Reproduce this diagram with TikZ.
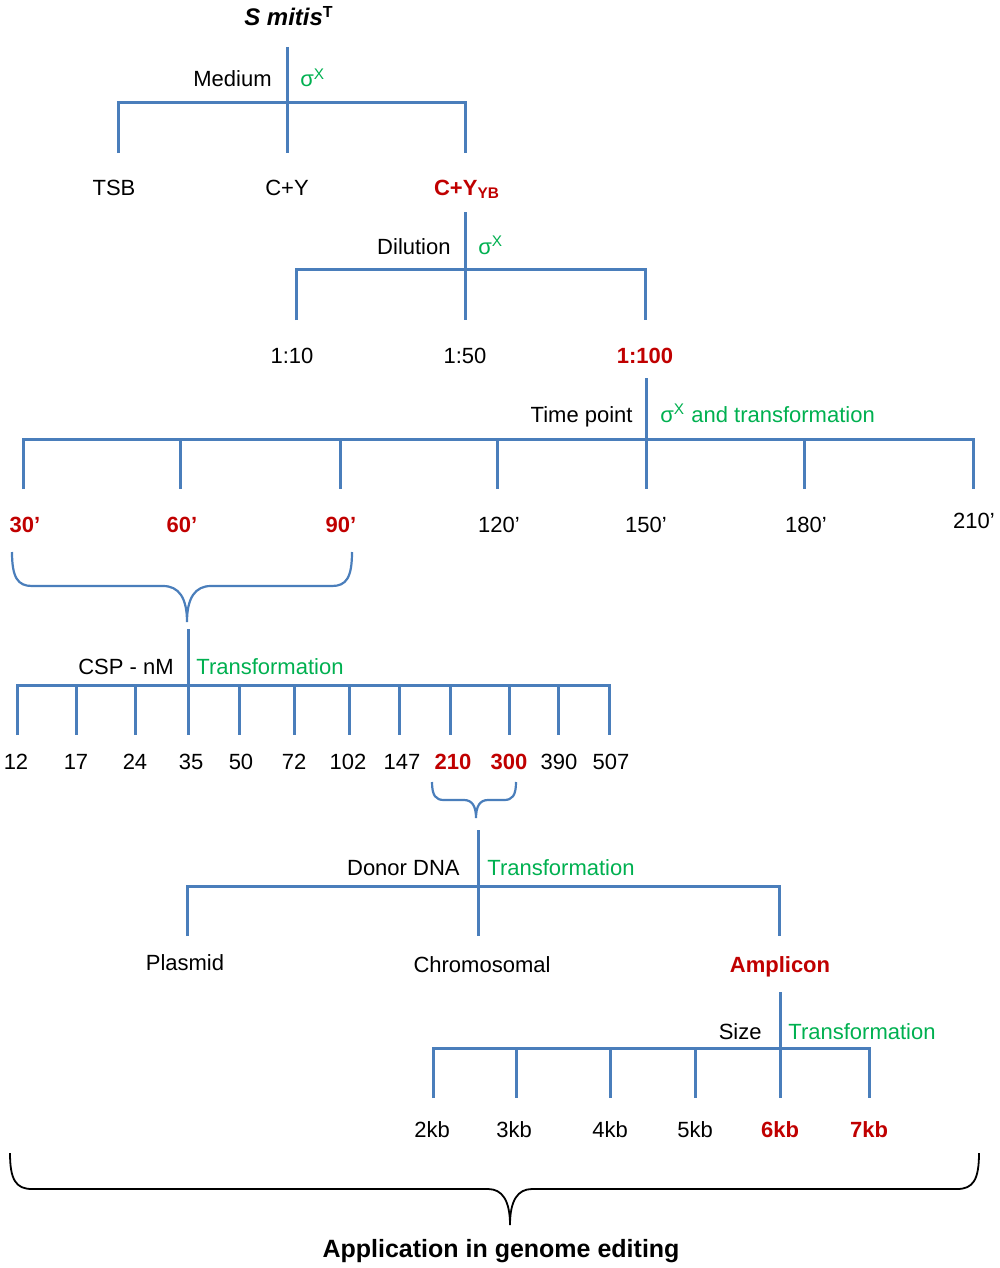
\documentclass[tikz,border=0pt]{standalone}
\usepackage{fontspec}
\setmainfont{Liberation Sans}
\definecolor{tblue}{HTML}{4A7EBB}
\definecolor{tred}{HTML}{C00000}
\definecolor{tgreen}{HTML}{00B050}
\begin{document}
\begin{tikzpicture}[x=0.5pt,y=-0.5pt,
  tree/.style={draw=tblue, line width=1.5pt},
  bigbrace/.style={draw=black, line width=0.9pt},
  lbl/.style={inner sep=0pt, anchor=base, font=\fontsize{11}{13}\selectfont},
  hl/.style={inner sep=0pt, anchor=base, text=tred, font=\fontsize{11}{13}\selectfont\bfseries},
  cat/.style={inner sep=0pt, anchor=base east, font=\fontsize{11}{13}\selectfont},
  crit/.style={inner sep=0pt, anchor=base west, text=tgreen, font=\fontsize{11}{13}\selectfont}]
\useasboundingbox (0,0) rectangle (1000,1268);

% ---------- title ----------
\node[inner sep=0pt, anchor=base, font=\fontsize{12}{14}\selectfont\bfseries\itshape] (title) at (289,26) {S mitis\textsuperscript{\upshape T}};

% ---------- level 1: medium ----------
\coordinate (s1t) at (287,47);
\coordinate (s1b) at (287,153);
\draw[tree] (s1t) -- (s1b);
\draw[tree] (118,153) -- (118,103) -- (465,103) -- (465,153);
\node[cat] (medium) at (272,87) {Medium};
\node[crit] (sig1) at (300,87) {σ\textsuperscript{X}};
\node[lbl] (tsb) at (114,195) {TSB};
\node[lbl] (cy) at (287,195) {C+Y};
\node[hl] (cyyb) at (467,195) {C+Y\textsubscript{YB}};

% ---------- level 2: dilution ----------
\draw[tree] (465,212) -- (465,320);
\draw[tree] (296,320) -- (296,269) -- (645,269) -- (645,320);
\node[cat] (dil) at (451,254) {Dilution};
\node[crit] (sig2) at (478,254) {σ\textsuperscript{X}};
\node[lbl] (d10) at (292,363) {1:10};
\node[lbl] (d50) at (465,363) {1:50};
\node[hl] (d100) at (645,363) {1:100};

% ---------- level 3: time point ----------
\draw[tree] (646,378) -- (646,489);
\draw[tree] (23,489) -- (23,439) -- (973,439) -- (973,489);
\foreach \x in {180,340,497,804} \draw[tree] (\x,439) -- (\x,489);
\node[cat] (tp) at (633,422) {Time point};
\node[crit] (sig3) at (660,422) {σ\textsuperscript{X} and transformation};
\node[hl] (t30) at (25,532) {30’};
\node[hl] (t60) at (182,532) {60’};
\node[hl] (t90) at (341,532) {90’};
\node[lbl] (t120) at (499,532) {120’};
\node[lbl] (t150) at (646,532) {150’};
\node[lbl] (t180) at (806,532) {180’};
\node[lbl] (t210) at (974,528) {210’};

% brace 1
\draw[tree, line width=1.1pt] (12,552) .. controls (12,578) and (18,586) .. (32,586) -- (163,586)
  .. controls (179,586) and (187,598) .. (187,622)
  .. controls (187,598) and (195,586) .. (211,586) -- (332,586)
  .. controls (346,586) and (352,578) .. (352,552);

% ---------- level 4: CSP ----------
\draw[tree] (188,629) -- (188,735);
\draw[tree] (17,735) -- (17,685) -- (609,685) -- (609,735);
\foreach \x in {76,135,239,294,349,399,450,509,558} \draw[tree] (\x,685) -- (\x,735);
\node[cat] (csp) at (174,674) {CSP - nM};
\node[crit] (tr4) at (196,674) {Transformation};
\foreach \v/\x in {12/16,17/76,24/135,35/191,50/241,72/294,102/348,147/402,390/559,507/611}
  \node[lbl] (c\v) at (\x,769) {\v};
\node[hl] (c210) at (453,769) {210};
\node[hl] (c300) at (509,769) {300};

% brace 2
\draw[tree, line width=1.1pt] (432,782) .. controls (432,796) and (436,800) .. (444,800) -- (464,800)
  .. controls (472,800) and (476,806) .. (476,818)
  .. controls (476,806) and (480,800) .. (488,800) -- (504,800)
  .. controls (512,800) and (516,796) .. (516,782);

% ---------- level 5: donor DNA ----------
\draw[tree] (478,830) -- (478,936);
\draw[tree] (187,936) -- (187,886) -- (779,886) -- (779,936);
\node[cat] (donor) at (460,875) {Donor DNA};
\node[crit] (tr5) at (487,875) {Transformation};
\node[lbl] (plasmid) at (185,970) {Plasmid};
\node[lbl] (chrom) at (482,972) {Chromosomal};
\node[hl] (ampl) at (780,972) {Amplicon};

% ---------- level 6: size ----------
\draw[tree] (780,992) -- (780,1098);
\draw[tree] (433,1098) -- (433,1048) -- (869,1048) -- (869,1098);
\foreach \x in {516,610,695} \draw[tree] (\x,1048) -- (\x,1098);
\node[cat] (size) at (762,1039) {Size};
\node[crit] (tr6) at (788,1039) {Transformation};
\node[lbl] (k2) at (432,1137) {2kb};
\node[lbl] (k3) at (514,1137) {3kb};
\node[lbl] (k4) at (610,1137) {4kb};
\node[lbl] (k5) at (695,1137) {5kb};
\node[hl] (k6) at (780,1137) {6kb};
\node[hl] (k7) at (869,1137) {7kb};

% big brace
\draw[bigbrace] (10,1153) .. controls (10,1180) and (16,1189) .. (32,1189) -- (488,1189)
  .. controls (502,1189) and (510,1200) .. (510,1225)
  .. controls (510,1200) and (518,1189) .. (532,1189) -- (957,1189)
  .. controls (973,1189) and (979,1180) .. (979,1153);
\node[inner sep=0pt, anchor=base, font=\fontsize{12.5}{15}\selectfont\bfseries] (app) at (501,1257) {Application in genome editing};
\end{tikzpicture}
\end{document}
